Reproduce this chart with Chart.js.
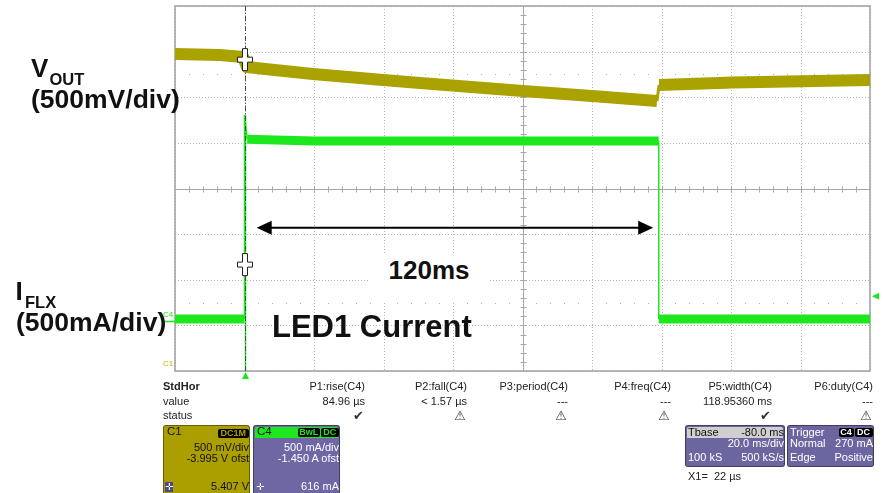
<!DOCTYPE html>
<html>
<head>
<meta charset="utf-8">
<script src="https://cdn.jsdelivr.net/npm/chart.js@4.4.0/dist/chart.umd.min.js"></script>
<style>
body{margin:0;background:#fff;}
#wrap{position:relative;width:883px;height:493px;overflow:hidden;font-family:"Liberation Sans",Arial,sans-serif;}
#scope{position:absolute;left:0;top:0;}
.t{position:absolute;white-space:nowrap;line-height:1;}
.box{position:absolute;border-radius:3px;border:1px solid rgba(0,0,0,.4);box-sizing:border-box;}
.badge{position:absolute;border-radius:2px;background:#000;font-size:9px;line-height:9px;text-align:center;font-weight:bold;}
</style>
</head>
<body>
<div id="wrap">
  <canvas id="scope" width="883" height="493"></canvas>
</div>
<script>
'use strict';

// VOUT trace (C1), time in ms
const timeV=[-20,-7.1,-0.4,0.7,7.3,19.7,39.9,50.5,80.1,100.0,118.7,119.3,140.6,180];
const vout=[5.469,5.458,5.436,5.326,5.300,5.249,5.183,5.151,5.063,5.008,4.953,5.129,5.156,5.183];

// IFLX trace (C4)
const timeI=[-20,0,0,0.8,20,60,100,119.2,119.2,180];
const iflx=[0.02,0.02,2.255,1.99,1.97,1.97,1.97,1.97,0.02,0.02];

// scope settings
const xGrid=[-20,0,20,40,60,80,100,120,140,160,180];
const vGrid=[1.995,2.495,2.995,3.495,3.995,4.495,4.995,5.495,5.995];
const vOffset=3.995, iOffset=1.45;
const cursorT=0, cursorV=5.407, cursorI=0.616;
const trigLevel=0.27;
const arrowFrom=3.5, arrowTo=117.6, arrowLevel=1.02;

// measurement table
const measNames=['P1:rise(C4)','P2:fall(C4)','P3:period(C4)','P4:freq(C4)','P5:width(C4)','P6:duty(C4)'];
const measValues=['84.96 µs','< 1.57 µs','---','---','118.95360 ms','---'];
const measOk=[true,false,false,false,true,false];
const measRight=[365,467,568,671,772,873];

const wrap=document.getElementById('wrap');

function addText(txt,x,base,size,style,right){
  const d=document.createElement('div');
  d.className='t';
  d.textContent=txt;
  d.style.fontSize=size+'px';
  d.style.top=(base-0.8465*size)+'px';
  if(right){d.style.right=(883-x)+'px';}else{d.style.left=x+'px';}
  Object.assign(d.style,style||{});
  wrap.appendChild(d);
  return d;
}
function addBox(l,t,w,h,bg){
  const d=document.createElement('div');
  d.className='box';
  Object.assign(d.style,{left:l+'px',top:t+'px',width:w+'px',height:h+'px',background:bg});
  wrap.appendChild(d);
  return d;
}
function addBadge(txt,l,r,t,fg){
  const d=document.createElement('div');
  d.className='badge';
  d.textContent=txt;
  Object.assign(d.style,{left:l+'px',top:t+'px',width:(r-l)+'px',height:'9px',color:fg});
  wrap.appendChild(d);
}

function line(ctx,x1,y1,x2,y2){
  ctx.beginPath();ctx.moveTo(x1,y1);ctx.lineTo(x2,y2);ctx.stroke();
}

const scopeGrid={
  id:'scopeGrid',
  beforeDatasetsDraw(chart){
    const {ctx,chartArea:a,scales:{x,yV}}=chart;
    ctx.save();
    ctx.fillStyle='#fff';
    ctx.fillRect(a.left,a.top,a.right-a.left,a.bottom-a.top);
    ctx.strokeStyle='#b4b4b4';
    ctx.lineWidth=1;
    ctx.setLineDash([1,2]);
    xGrid.forEach(t=>{
      const px=Math.round(x.getPixelForValue(t))+0.5;
      line(ctx,px,a.top,px,a.bottom);
    });
    vGrid.forEach(v=>{
      const py=Math.round(yV.getPixelForValue(v))+0.5;
      line(ctx,a.left,py,a.right,py);
    });
    ctx.setLineDash([]);
    // sparse dots at +/-2.5 div
    ctx.fillStyle='#b0b0b0';
    const divX=(a.right-a.left)/10, divY=(a.bottom-a.top)/8;
    [vOffset+1.25,vOffset-1.25].forEach(v=>{
      const py=Math.round(yV.getPixelForValue(v));
      for(let k=1;k<50;k++){
        if(k%5===0) continue;
        ctx.fillRect(Math.round(a.left+k*divX/5),py,1,1);
      }
    });
    // centre axes with ticks
    ctx.strokeStyle='#a8a8a8';
    const cx=Math.round(x.getPixelForValue(80))+0.5;
    const cy=Math.round(yV.getPixelForValue(vOffset))+0.5;
    line(ctx,a.left,cy,a.right,cy);
    line(ctx,cx,a.top,cx,a.bottom);
    for(let k=1;k<50;k++){
      const px=Math.round(a.left+k*divX/5)+0.5;
      line(ctx,px,cy-3,px,cy+3);
    }
    for(let k=1;k<40;k++){
      const py=Math.round(a.top+k*divY/5)+0.5;
      line(ctx,cx-3,py,cx+3,py);
    }
    // frame
    ctx.strokeStyle='#a0a0a0';
    ctx.lineWidth=1.5;
    ctx.strokeRect(a.left,a.top,a.right-a.left,a.bottom-a.top);
    ctx.restore();
  },
  afterDatasetsDraw(chart){
    const {ctx,chartArea:a,scales:{x,yV,yI}}=chart;
    ctx.save();
    const px=Math.round(x.getPixelForValue(cursorT))+0.5;
    const spikeTop=yI.getPixelForValue(2.255);
    // green edge under cursor
    ctx.strokeStyle='#1de81d';ctx.lineWidth=1.5;
    line(ctx,px,spikeTop,px,a.bottom);
    // cursor dash-dot
    ctx.strokeStyle='#4a4a4a';ctx.lineWidth=1;
    ctx.setLineDash([5,2,1,2]);
    line(ctx,px,a.top,px,a.bottom);
    ctx.setLineDash([]);
    // crosses
    function cross(cxp,cyp){
      const w=2.5,hx=7.5,hy=11;
      ctx.beginPath();
      ctx.moveTo(cxp-w,cyp-hy);ctx.lineTo(cxp+w,cyp-hy);ctx.lineTo(cxp+w,cyp-w);
      ctx.lineTo(cxp+hx,cyp-w);ctx.lineTo(cxp+hx,cyp+w);ctx.lineTo(cxp+w,cyp+w);
      ctx.lineTo(cxp+w,cyp+hy);ctx.lineTo(cxp-w,cyp+hy);ctx.lineTo(cxp-w,cyp+w);
      ctx.lineTo(cxp-hx,cyp+w);ctx.lineTo(cxp-hx,cyp-w);ctx.lineTo(cxp-w,cyp-w);
      ctx.closePath();
      ctx.fillStyle='#fff';ctx.fill();
      ctx.strokeStyle='#222';ctx.lineWidth=1;ctx.stroke();
    }
    cross(px-0.5,yV.getPixelForValue(cursorV));
    cross(px-0.5,yI.getPixelForValue(cursorI));
    // double arrow
    const ax1=x.getPixelForValue(arrowFrom), ax2=x.getPixelForValue(arrowTo);
    const ay=yI.getPixelForValue(arrowLevel);
    ctx.strokeStyle='#000';ctx.lineWidth=2;
    line(ctx,ax1+10,ay,ax2-10,ay);
    ctx.fillStyle='#000';
    ctx.beginPath();ctx.moveTo(ax1,ay);ctx.lineTo(ax1+15,ay-7);ctx.lineTo(ax1+15,ay+7);ctx.closePath();ctx.fill();
    ctx.beginPath();ctx.moveTo(ax2,ay);ctx.lineTo(ax2-15,ay-7);ctx.lineTo(ax2-15,ay+7);ctx.closePath();ctx.fill();
    // trigger position marker
    ctx.fillStyle='#1de81d';
    ctx.beginPath();ctx.moveTo(px,a.bottom+1);ctx.lineTo(px+3.5,a.bottom+8);ctx.lineTo(px-3.5,a.bottom+8);ctx.closePath();ctx.fill();
    // trigger level marker
    const ty=yI.getPixelForValue(trigLevel);
    ctx.beginPath();ctx.moveTo(a.right+2,ty);ctx.lineTo(a.right+9,ty-3.5);ctx.lineTo(a.right+9,ty+3.5);ctx.closePath();ctx.fill();
    // C4 ground marker
    const gy=Math.round(yI.getPixelForValue(0))+0.5;
    ctx.strokeStyle='#1de81d';ctx.lineWidth=1.5;
    line(ctx,a.left-10,gy,a.left,gy);
    ctx.restore();
  }
};

new Chart(document.getElementById('scope'),{
  type:'line',
  data:{
    datasets:[
      {
        label:'VOUT',
        data:timeV.map((t,i)=>({x:t,y:vout[i]})),
        yAxisID:'yV',
        borderColor:'#aaa200',
        borderWidth:12,
        borderJoinStyle:'round',
        pointRadius:0,
        tension:0,
        segment:{borderWidth:c=>Math.abs(c.p1.y-c.p0.y)>12?3:12}
      },
      {
        label:'IFLX',
        data:timeI.map((t,i)=>({x:t,y:iflx[i]})),
        yAxisID:'yI',
        borderColor:'#1de81d',
        borderWidth:9,
        pointRadius:0,
        tension:0,
        segment:{borderWidth:c=>Math.abs(c.p1.y-c.p0.y)>20?1.5:9}
      }
    ]
  },
  options:{
    responsive:false,
    animation:false,
    devicePixelRatio:1,
    layout:{padding:{left:175,right:13,top:6,bottom:122}},
    plugins:{legend:{display:false},tooltip:{enabled:false}},
    scales:{
      x:{type:'linear',min:-20,max:180,display:false},
      yV:{type:'linear',min:vOffset-2,max:vOffset+2,display:false},
      yI:{type:'linear',min:iOffset-2,max:iOffset+2,display:false}
    }
  },
  plugins:[scopeGrid]
});

// annotations
const bold={fontWeight:'bold',color:'#111'};
addText('V',31,76.7,26,bold);
addText('OUT',49.5,85,16.5,bold);
addText('(500mV/div)',31,108.3,26.5,bold);
addText('I',15.5,300,26,bold);
addText('FLX',25,308.3,16.5,bold);
addText('(500mA/div)',16,331.7,26.5,bold);
const box120=addText('120ms',368,279.3,26,Object.assign({background:'#fff',width:'122px',textAlign:'center',paddingTop:'4px',paddingBottom:'18px'},bold));
box120.style.top=(279.3-0.8465*26-4)+'px';
addText('LED1 Current',272,337,31,bold);
addText('C4',163,317.5,8,{color:'#1de81d'});
addText('C1',163,366.5,8,{color:'#c8b400'});

// measurement table
addText('StdHor',163,390.7,11,{fontWeight:'bold',color:'#222'});
addText('value',163,405,11,{color:'#222'});
addText('status',163,419.3,11,{color:'#222'});
measNames.forEach((n,i)=>{
  addText(n,measRight[i],390.7,11,{color:'#222'},true);
  addText(measValues[i],measRight[i],405,11,{color:'#222'},true);
  addText(measOk[i]?'✔':'⚠',measRight[i]-1,420,13,{color:'#333',fontFamily:'"DejaVu Sans"'},true);
});

// channel boxes
addBox(163,425,87,80,'#ab9f00');
addText('C1',167,435.7,11.5,{color:'#111'});
addBadge('DC1M',218,248.5,428.5,'#ab9f00');
addText('500 mV/div',249,451,11,{color:'#111'},true);
addText('-3.995 V ofst',249,462.7,11,{color:'#111'},true);
addText('5.407 V',249,490.7,11,{color:'#111'},true);
addText('✛',165,490,10,{color:'#fff',background:'#4a4a8a',fontFamily:'"DejaVu Sans"'});

const c4=addBox(253,425,87,80,'#6f67a3');
const c4h=document.createElement('div');
Object.assign(c4h.style,{position:'absolute',left:'1px',top:'1px',right:'1px',height:'11px',background:'#1de81d',borderRadius:'2px 2px 0 0'});
c4.appendChild(c4h);
addText('C4',257,435.7,11.5,{color:'#111'});
addBadge('BwL',298,319.5,428,'#1de81d');
addBadge('DC',321,338.5,428,'#1de81d');
addText('500 mA/div',339,451,11,{color:'#fff'},true);
addText('-1.450 A ofst',339,462.7,11,{color:'#fff'},true);
addText('616 mA',339,490.7,11,{color:'#fff'},true);
addText('✛',256,490,10,{color:'#fff',fontFamily:'"DejaVu Sans"'});

const tb=addBox(685,425,100,42,'#6c66a0');
const tbh=document.createElement('div');
Object.assign(tbh.style,{position:'absolute',left:'1px',top:'1px',right:'1px',height:'11px',background:'#cfcfcf',borderRadius:'2px 2px 0 0'});
tb.appendChild(tbh);
addText('Tbase',688,436,11,{color:'#111'});
addText('-80.0 ms',784,436,11,{color:'#111'},true);
addText('20.0 ms/div',784,447.3,11,{color:'#fff'},true);
addText('100 kS',688,461.5,11,{color:'#fff'});
addText('500 kS/s',784,461.5,11,{color:'#fff'},true);

addBox(787,425,87,42,'#6c66a0');
addText('Trigger',790,436,11,{color:'#fff'});
addBadge('C4',838.5,853.5,428,'#fff');
addBadge('DC',854.5,872.5,428,'#fff');
addText('Normal',790,447.3,11,{color:'#fff'});
addText('270 mA',873,447.3,11,{color:'#fff'},true);
addText('Edge',790,461.5,11,{color:'#fff'});
addText('Positive',873,461.5,11,{color:'#fff'},true);

addText('X1=  22 µs',688,480,11,{color:'#222',whiteSpace:'pre'});
</script>
</body>
</html>
